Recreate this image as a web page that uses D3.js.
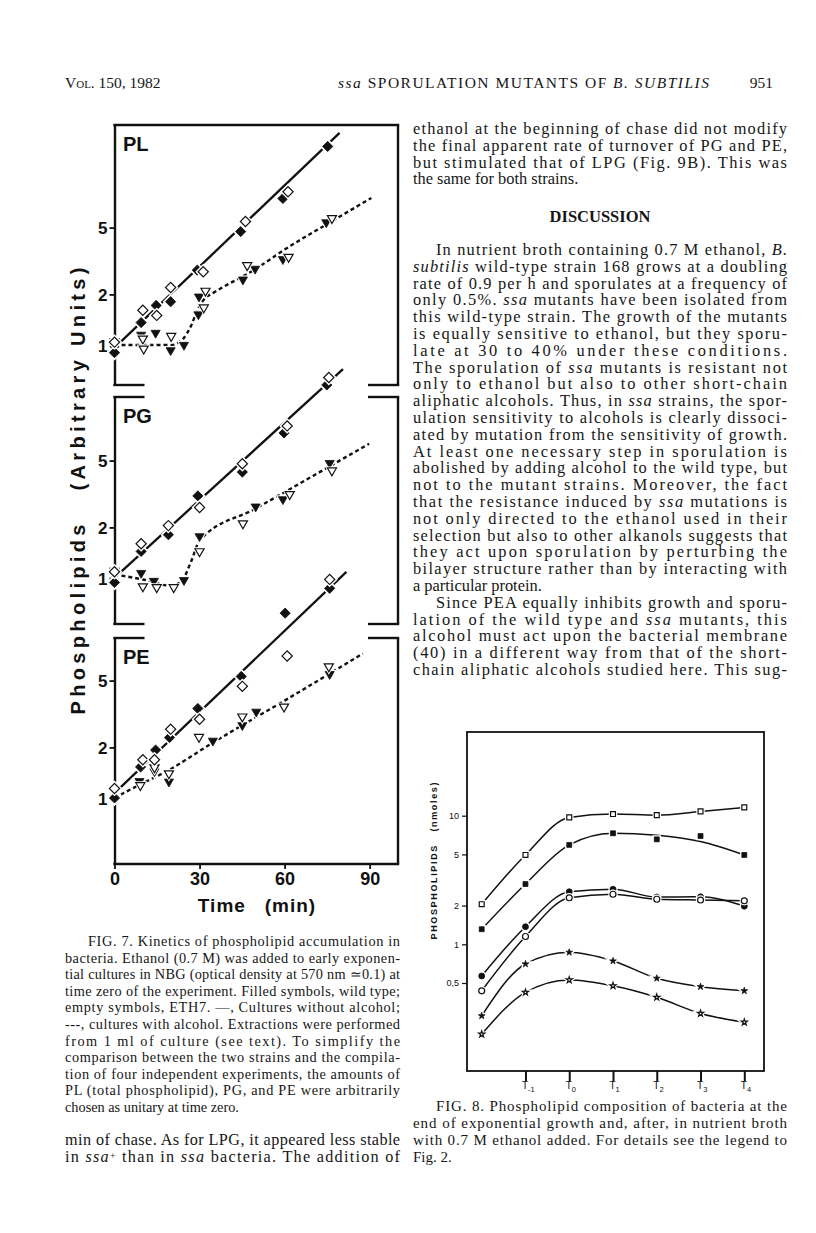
<!DOCTYPE html>
<html>
<head>
<meta charset="utf-8">
<script src="https://cdn.jsdelivr.net/npm/d3@7"></script>
<style>
body { margin: 0; background: #fff; }
svg { display: block; }
.serif { font-family: "Liberation Serif", "Times New Roman", serif; fill: #161616; }
.sans { font-family: "Liberation Sans", Arial, sans-serif; fill: #111; }
.axis path, .axis line { stroke: #111; }
</style>
</head>
<body>
<svg id="page" width="816" height="1233"></svg>
<script>

/***** Fig. 7 data : [time (min), arbitrary units] *****/
var fig7TimeTicks = [0, 30, 60, 90];
var fig7ValueTicks = [1, 2, 5];
var panelNames = ["PL", "PG", "PE"];

var plWildNoAlcohol = [[0, 0.9], [9.4, 1.36], [14.7, 1.72], [19.8, 1.81], [29.2, 2.79], [44.5, 4.73], [59.4, 7.45], [75.2, 15.2]];
var plEth7NoAlcohol = [[0, 1.04], [10, 1.61], [14.9, 1.5], [19.8, 2.2], [31.3, 2.73], [46.2, 5.43], [61.2, 8.17]];
var plWildAlcohol = [[0, 0.95], [9.4, 1.15], [14.5, 1.18], [19.8, 0.93], [24.5, 1.0], [29.6, 1.52], [29.8, 1.94], [45.3, 2.45], [49.6, 2.84], [59.4, 3.24], [74.7, 5.37]];
var plEth7Alcohol = [[0, 1.05], [10, 1.09], [10.3, 0.95], [20, 1.13], [31.5, 1.67], [32.1, 2.1], [46.8, 2.98], [61.4, 3.34], [76.7, 5.68]];
var plNoAlcoholCurve = [[1.8, 1.03], [79.4, 18.3]];
var plAlcoholCurve = [[0, 1.0], [10, 1.0], [20, 1.0], [24, 1.08], [27, 1.3], [29.5, 1.65], [32, 1.9], [35, 2.05], [50, 2.85], [60, 3.7], [75, 5.25], [90.6, 7.5]];

var pgWildNoAlcohol = [[0, 0.94], [9.4, 1.44], [19, 1.81], [29.4, 3.08], [45.1, 4.27], [59.8, 7.3], [74.9, 14.1]];
var pgEth7NoAlcohol = [[0, 1.09], [9.4, 1.6], [19, 2.05], [30, 2.63], [45.1, 4.79], [60.9, 8.04], [75.6, 15.6]];
var pgWildAlcohol = [[0, 1.03], [9.4, 1.07], [13.9, 0.96], [24.5, 0.97], [30, 1.77], [49.8, 2.66], [59.4, 2.94], [75.9, 4.83]];
var pgEth7Alcohol = [[0, 1.1], [10, 0.89], [14.9, 0.88], [20.9, 0.88], [30, 1.44], [45.3, 2.11], [61.8, 3.15], [76.7, 4.36]];
var pgNoAlcoholCurve = [[1.8, 1.07], [80.6, 17.5]];
var pgAlcoholCurve = [[0, 1.05], [10, 0.98], [20, 0.9], [23.5, 0.95], [27, 1.25], [30, 1.67], [50, 2.6], [70, 4.05], [89.8, 6.3]];

var peWildNoAlcohol = [[0, 1.0], [9.2, 1.53], [14.5, 1.93], [19.4, 2.29], [29.4, 3.41], [44.7, 5.29], [60.2, 12.6], [75.9, 17.7]];
var peEth7NoAlcohol = [[0, 1.14], [10, 1.69], [14.1, 1.69], [19.8, 2.57], [30, 2.94], [45.1, 4.62], [60.9, 7.0], [75.9, 20.0]];
var peWildAlcohol = [[0, 1.0], [8.8, 1.26], [14.1, 1.44], [19.2, 1.25], [34.7, 2.19], [45.1, 2.71], [50, 3.26], [75.9, 5.46]];
var peEth7Alcohol = [[0, 1.1], [9.1, 1.19], [14.1, 1.52], [19.2, 1.4], [29.8, 2.31], [45.1, 3.05], [59.8, 3.49], [75.6, 6.06]];
var peNoAlcoholCurve = [[0, 1.07], [81.8, 22.2]];
var peAlcoholCurve = [[0, 1.0], [8, 1.18], [18, 1.43], [35, 2.15], [60, 3.8], [87.6, 7.24]];

/***** Fig. 8 data : nmoles *****/
var fig8Times = ["T-2", "T-1", "T0", "T1", "T2", "T3", "T4"];
var fig8TickTimes = ["T-1", "T0", "T1", "T2", "T3", "T4"];
var fig8ValueTicks = [0.5, 1, 2, 5, 10];
var openSquares = [2.05, 4.95, 9.7, 10.3, 10.1, 10.8, 11.6];
var filledSquares = [1.31, 2.94, 5.93, 7.3, 6.55, 6.95, 4.95];
var filledSquaresCurve = [1.31, 2.94, 5.93, 7.3, 7.05, 6.3, 4.95];
var filledCircles = [0.567, 1.37, 2.56, 2.68, 2.33, 2.34, 1.98];
var openCircles = [0.435, 1.15, 2.3, 2.45, 2.24, 2.21, 2.18];
var filledStars = [0.278, 0.703, 0.866, 0.742, 0.544, 0.468, 0.435];
var openStars = [0.2, 0.423, 0.528, 0.476, 0.387, 0.29, 0.248];

/***** Page text *****/
var rightTop = [
    "ethanol at the beginning of chase did not modify",
    "the final apparent rate of turnover of PG and PE,",
    "but stimulated that of LPG (Fig. 9B). This was",
    "the same for both strains.$"
];
var rightDiscussion = [
    "¶In nutrient broth containing 0.7 M ethanol, _B._",
    "_subtilis_ wild-type strain 168 grows at a doubling",
    "rate of 0.9 per h and sporulates at a frequency of",
    "only 0.5%. _ssa_ mutants have been isolated from",
    "this wild-type strain. The growth of the mutants",
    "is equally sensitive to ethanol, but they sporu-",
    "late at 30 to 40% under these conditions.",
    "The sporulation of _ssa_ mutants is resistant not",
    "only to ethanol but also to other short-chain",
    "aliphatic alcohols. Thus, in _ssa_ strains, the spor-",
    "ulation sensitivity to alcohols is clearly dissoci-",
    "ated by mutation from the sensitivity of growth.",
    "At least one necessary step in sporulation is",
    "abolished by adding alcohol to the wild type, but",
    "not to the mutant strains. Moreover, the fact",
    "that the resistance induced by _ssa_ mutations is",
    "not only directed to the ethanol used in their",
    "selection but also to other alkanols suggests that",
    "they act upon sporulation by perturbing the",
    "bilayer structure rather than by interacting with",
    "a particular protein.$",
    "¶Since PEA equally inhibits growth and sporu-",
    "lation of the wild type and _ssa_ mutants, this",
    "alcohol must act upon the bacterial membrane",
    "(40) in a different way from that of the short-",
    "chain aliphatic alcohols studied here. This sug-"
];
var fig7Caption = [
    "¶FIG. 7. Kinetics of phospholipid accumulation in",
    "bacteria. Ethanol (0.7 M) was added to early exponen-",
    "tial cultures in NBG (optical density at 570 nm \u22430.1) at",
    "time zero of the experiment. Filled symbols, wild type;",
    "empty symbols, ETH7. \u2014, Cultures without alcohol;",
    "---, cultures with alcohol. Extractions were performed",
    "from 1 ml of culture (see text). To simplify the",
    "comparison between the two strains and the compila-",
    "tion of four independent experiments, the amounts of",
    "PL (total phospholipid), PG, and PE were arbitrarily",
    "chosen as unitary at time zero.$"
];
var leftBottom = [
    "min of chase. As for LPG, it appeared less stable",
    "in _ssa_^+^ than in _ssa_ bacteria. The addition of"
];
var fig8Caption = [
    "¶FIG. 8. Phospholipid composition of bacteria at the",
    "end of exponential growth and, after, in nutrient broth",
    "with 0.7 M ethanol added. For details see the legend to",
    "Fig. 2.$"
];

var svg = d3.select("#page");

/***** Text helpers *****/
function writeLines(lines, opt) {
    lines.forEach(function(line, i) {
        var indent = 0, justify = true, s = line;
        if (s.charAt(0) === "¶") { indent = opt.indent; s = s.slice(1); }
        if (s.slice(-1) === "$") { justify = false; s = s.slice(0, -1); }
        var t = svg.append("text")
            .attr("class", "serif")
            .attr("x", opt.x + indent)
            .attr("y", opt.y + i * opt.step)
            .style("font-size", opt.size + "px");
        s.split(/(_[^_]+_|\^[^^]+\^)/).forEach(function(part) {
            if (!part) return;
            if (part.charAt(0) === "_") {
                t.append("tspan").style("font-style", "italic").text(part.slice(1, -1));
            } else if (part.charAt(0) === "^") {
                t.append("tspan").attr("baseline-shift", "3px")
                    .style("font-size", (opt.size * 0.6) + "px").text(part.slice(1, -1));
            } else {
                t.append("tspan").text(part);
            }
        });
        if (justify) t.attr("textLength", opt.width - indent).attr("lengthAdjust", "spacing");
    });
}

// running head
var head = svg.append("g").attr("class", "serif").style("font-size", "15.5px");
head.append("text").attr("x", 65).attr("y", 88).style("font-variant", "small-caps").text("Vol. 150, 1982");
var title = head.append("text").attr("x", 338).attr("y", 88)
    .attr("textLength", 371).attr("lengthAdjust", "spacing");
title.append("tspan").style("font-style", "italic").text("ssa");
title.append("tspan").text(" SPORULATION MUTANTS OF ");
title.append("tspan").style("font-style", "italic").text("B. SUBTILIS");
head.append("text").attr("x", 773).attr("y", 88).attr("text-anchor", "end").text("951");

writeLines(rightTop, {x: 413, y: 134, step: 16.8, width: 374, size: 16.4, indent: 23});
svg.append("text").attr("class", "serif")
    .attr("x", 600).attr("y", 222).attr("text-anchor", "middle")
    .style("font-size", "16.5px").style("font-weight", "bold")
    .text("DISCUSSION");
writeLines(rightDiscussion, {x: 413, y: 255, step: 16.8, width: 374, size: 16.4, indent: 23});
writeLines(fig7Caption, {x: 65, y: 946, step: 16.6, width: 335, size: 14.3, indent: 23});
writeLines(leftBottom, {x: 65, y: 1145, step: 17.2, width: 335, size: 16.2, indent: 23});
writeLines(fig8Caption, {x: 413, y: 1111, step: 17, width: 374, size: 15, indent: 23});

/***** Fig. 7 : three stacked log panels *****/
var panelBoxes = [
    {top: 125, bottom: 385, one: 345, fullTop: true, fullBottom: false},
    {top: 397, bottom: 624, one: 578, fullTop: false, fullBottom: false},
    {top: 638, bottom: 864, one: 798, fullTop: false, fullBottom: true}
];
var panelSeries = [
    {wildNo: plWildNoAlcohol, ethNo: plEth7NoAlcohol, wildAlc: plWildAlcohol, ethAlc: plEth7Alcohol, solid: plNoAlcoholCurve, dotted: plAlcoholCurve},
    {wildNo: pgWildNoAlcohol, ethNo: pgEth7NoAlcohol, wildAlc: pgWildAlcohol, ethAlc: pgEth7Alcohol, solid: pgNoAlcoholCurve, dotted: pgAlcoholCurve},
    {wildNo: peWildNoAlcohol, ethNo: peEth7NoAlcohol, wildAlc: peWildAlcohol, ethAlc: peEth7Alcohol, solid: peNoAlcoholCurve, dotted: peAlcoholCurve}
];

var decade = 168;
var x7 = d3.scaleLinear().domain([0, 100]).range([114.5, 398]);
var right7 = x7(100);
var bracket = 30;

var diamond = d3.symbol().type(d3.symbolSquare).size(52);
var triangle = d3.symbol().type(d3.symbolTriangle).size(36);

function drawMarks(g, data, x, y, shape, filled, rotate, halo) {
    var sel = g.append("g").selectAll("g").data(data).enter().append("g")
        .attr("transform", function(d) { return "translate(" + x(d[0]) + "," + y(d[1]) + ") rotate(" + rotate + ")"; });
    sel.append("path").attr("d", shape)
        .attr("fill", "#fff").attr("stroke", "#fff").attr("stroke-width", halo);
    sel.append("path").attr("d", shape)
        .attr("fill", filled ? "#111" : "#fff")
        .attr("stroke", "#111").attr("stroke-width", filled ? 0.8 : 1.2);
}

panelNames.forEach(function(name, i) {
    var box = panelBoxes[i], s = panelSeries[i];
    var y = d3.scaleLog()
        .domain([Math.pow(10, -(box.bottom - box.one) / decade), Math.pow(10, (box.one - box.top) / decade)])
        .range([box.bottom, box.top]);
    var g = svg.append("g");

    // left axis (its domain line is the panel's left edge)
    var ax = g.append("g").attr("class", "axis")
        .attr("transform", "translate(" + x7(0) + ",0)")
        .call(d3.axisLeft(y).tickValues(fig7ValueTicks).tickFormat(d3.format("d")).tickSize(5).tickSizeOuter(0).tickPadding(2));
    ax.select(".domain").attr("stroke-width", 2.4);
    ax.selectAll(".tick line").attr("stroke-width", 1.8);
    ax.selectAll(".tick text").attr("class", "sans").style("font-size", "17px").style("font-weight", "bold").attr("dy", "0.36em");

    // frame: right edge, top/bottom edges or corner brackets
    var frame = g.append("g").attr("stroke", "#111").attr("stroke-width", 2.4).attr("fill", "none");
    frame.append("line").attr("x1", right7).attr("x2", right7).attr("y1", box.top).attr("y2", box.bottom);
    [box.top, box.bottom].forEach(function(yy, k) {
        var full = k === 0 ? box.fullTop : box.fullBottom;
        if (full) {
            frame.append("line").attr("x1", x7(0) - 1.2).attr("x2", right7 + 1.2).attr("y1", yy).attr("y2", yy);
        } else {
            frame.append("line").attr("x1", x7(0) - 1.2).attr("x2", x7(0) + bracket).attr("y1", yy).attr("y2", yy);
            frame.append("line").attr("x1", right7 - bracket).attr("x2", right7 + 1.2).attr("y1", yy).attr("y2", yy);
        }
    });

    g.append("text").attr("class", "sans")
        .attr("x", 123).attr("y", box.top + 26)
        .style("font-size", "20px").style("font-weight", "bold")
        .text(name);

    var line = d3.line().x(function(d) { return x7(d[0]); }).y(function(d) { return y(d[1]); });
    g.append("path").datum(s.solid).attr("d", line)
        .attr("fill", "none").attr("stroke", "#111").attr("stroke-width", 2.3);
    g.append("path").datum(s.dotted).attr("d", line.curve(d3.curveMonotoneX))
        .attr("fill", "none").attr("stroke", "#111").attr("stroke-width", 2.4)
        .attr("stroke-dasharray", "4,3");

    drawMarks(g, s.wildAlc, x7, y, triangle, true, 180, 3);
    drawMarks(g, s.ethAlc, x7, y, triangle, false, 180, 3);
    drawMarks(g, s.wildNo, x7, y, diamond, true, 45, 4);
    drawMarks(g, s.ethNo, x7, y, diamond, false, 45, 4);

    if (box.fullBottom) {
        var xa = g.append("g").attr("class", "axis")
            .attr("transform", "translate(0," + box.bottom + ")")
            .call(d3.axisBottom(x7).tickValues(fig7TimeTicks).tickSize(5).tickSizeOuter(0).tickPadding(3));
        xa.select(".domain").remove();
        xa.selectAll(".tick line").attr("stroke-width", 1.8);
        xa.selectAll(".tick text").attr("class", "sans").style("font-size", "18px").style("font-weight", "bold");
    }
});

svg.append("text").attr("class", "sans")
    .attr("x", 257).attr("y", 912).attr("text-anchor", "middle")
    .style("font-size", "19px").style("font-weight", "bold").style("letter-spacing", "1px")
    .attr("xml:space", "preserve")
    .text("Time   (min)");

svg.append("text").attr("class", "sans")
    .attr("transform", "translate(85,491) rotate(-90)")
    .attr("text-anchor", "middle")
    .attr("textLength", 447).attr("lengthAdjust", "spacing")
    .style("font-size", "20px").style("font-weight", "bold")
    .attr("xml:space", "preserve")
    .text("Phospholipids   (Arbitrary Units)");

/***** Fig. 8 : phospholipid composition *****/
var f8 = {left: 467, right: 764, top: 732, bottom: 1071, one: 944.3, decade: 128.6};
var x8 = d3.scalePoint().domain(fig8Times).range([481.7, 744.3]);
var y8 = d3.scaleLog()
    .domain([Math.pow(10, -(f8.bottom - f8.one) / f8.decade), Math.pow(10, (f8.one - f8.top) / f8.decade)])
    .range([f8.bottom, f8.top]);

var g8 = svg.append("g");
g8.append("rect")
    .attr("x", f8.left).attr("y", f8.top)
    .attr("width", f8.right - f8.left).attr("height", f8.bottom - f8.top)
    .attr("fill", "none").attr("stroke", "#111").attr("stroke-width", 1.8);

var ya8 = g8.append("g").attr("class", "axis")
    .attr("transform", "translate(" + f8.left + ",0)")
    .call(d3.axisLeft(y8).tickValues(fig8ValueTicks).tickSize(5).tickSizeOuter(0).tickPadding(3)
        .tickFormat(function(d) { return d < 1 ? "0,5" : d; }));
ya8.select(".domain").remove();
ya8.selectAll(".tick line").attr("stroke-width", 1.2);
ya8.selectAll(".tick text").attr("class", "sans").style("font-size", "9px");

var xa8 = g8.append("g").attr("class", "axis")
    .attr("transform", "translate(0," + f8.bottom + ")")
    .call(d3.axisBottom(x8).tickValues(fig8TickTimes).tickSize(10).tickSizeOuter(0).tickFormat(""));
xa8.select(".domain").remove();
xa8.selectAll(".tick line").attr("stroke-width", 2);
fig8TickTimes.forEach(function(t) {
    var lab = g8.append("text").attr("class", "sans")
        .attr("x", x8(t) - 3.5).attr("y", f8.bottom + 18)
        .style("font-size", "10px");
    lab.append("tspan").text("T");
    lab.append("tspan").attr("dy", 3).style("font-size", "7.5px").text(t.slice(1));
});

g8.append("text").attr("class", "sans")
    .attr("transform", "translate(437,861) rotate(-90)")
    .attr("text-anchor", "middle")
    .attr("textLength", 157).attr("lengthAdjust", "spacing")
    .style("font-size", "9px").style("font-weight", "bold")
    .attr("xml:space", "preserve")
    .text("PHOSPHOLIPIDS   (nmoles)");

var fig8Series = [
    {points: openSquares, curve: openSquares, shape: d3.symbol().type(d3.symbolSquare).size(24), filled: false},
    {points: filledSquares, curve: filledSquaresCurve, shape: d3.symbol().type(d3.symbolSquare).size(24), filled: true},
    {points: filledCircles, curve: filledCircles, shape: d3.symbol().type(d3.symbolCircle).size(28), filled: true},
    {points: openCircles, curve: openCircles, shape: d3.symbol().type(d3.symbolCircle).size(28), filled: false},
    {points: filledStars, curve: filledStars, shape: d3.symbol().type(d3.symbolStar).size(14), filled: true},
    {points: openStars, curve: openStars, shape: d3.symbol().type(d3.symbolStar).size(12), filled: false}
];
var line8 = d3.line().curve(d3.curveMonotoneX)
    .x(function(d, i) { return x8(fig8Times[i]); })
    .y(function(d) { return y8(d); });

fig8Series.forEach(function(s) {
    g8.append("path").datum(s.curve).attr("d", line8)
        .attr("fill", "none").attr("stroke", "#111").attr("stroke-width", 1.5);
});
fig8Series.forEach(function(s) {
    var pts = s.points.map(function(v, i) { return [fig8Times[i], v]; });
    drawMarks(g8, pts, x8, y8, s.shape, s.filled, 0, 3.5);
});

</script>
</body>
</html>
